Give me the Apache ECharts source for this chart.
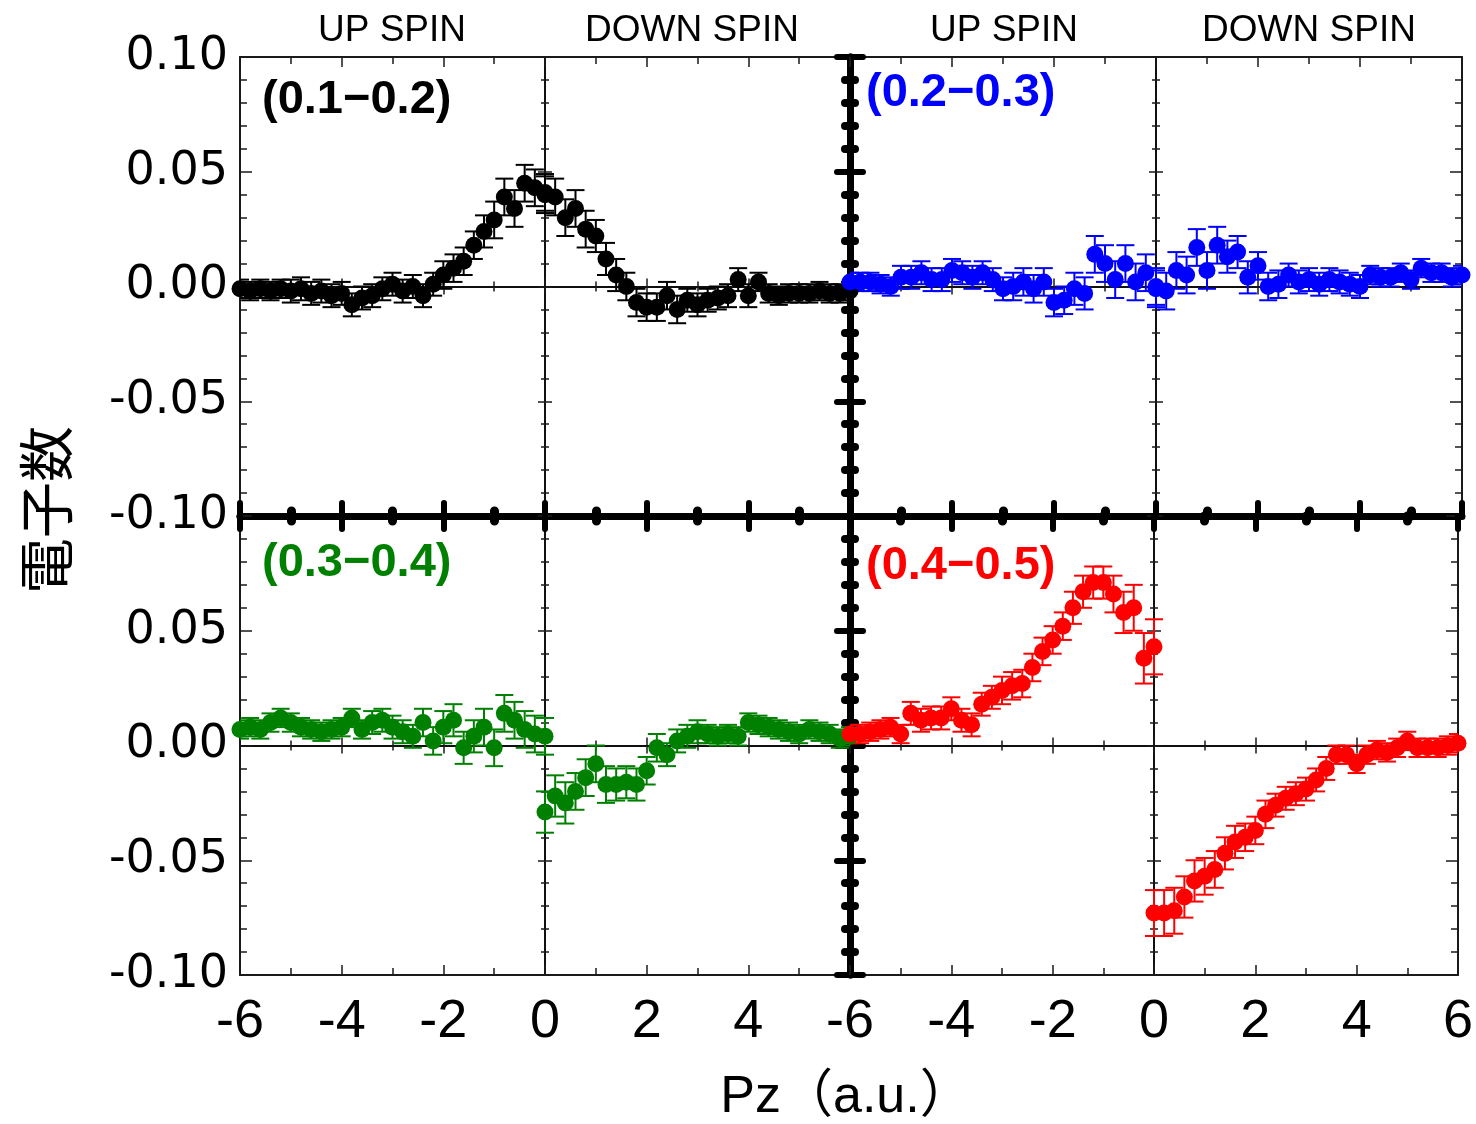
<!DOCTYPE html>
<html><head><meta charset="utf-8">
<script src="https://cdn.jsdelivr.net/npm/echarts@6/dist/echarts.min.js"></script>
<style>html,body{margin:0;padding:0;background:#fff}#c{width:1476px;height:1124px}</style>
</head><body><div id="c"></div>
<script>
// ---------------- DATA ----------------
const upX   = [-6,-5.8,-5.6,-5.4,-5.2,-5,-4.8,-4.6,-4.4,-4.2,-4,-3.8,-3.6,-3.4,-3.2,-3,-2.8,-2.6,-2.4,-2.2,-2,-1.8,-1.6,-1.4,-1.2,-1,-0.8,-0.6,-0.4,-0.2,0];
const downX = [0,0.2,0.4,0.6,0.8,1,1.2,1.4,1.6,1.8,2,2.2,2.4,2.6,2.8,3,3.2,3.4,3.6,3.8,4,4.2,4.4,4.6,4.8,5,5.2,5.4,5.6,5.8,6];
const xTicks = [-6,-4,-2,0,2,4,6];
const yTicks = [-0.10,-0.05,0.00,0.05,0.10];

// (0.1-0.2) black
const blackUp   = [-0.001,-0.002,-0.001,-0.002,-0.001,-0.002,-0.001,-0.003,-0.002,-0.004,-0.003,-0.008,-0.005,-0.004,-0.001,0.001,-0.002,0.000,-0.004,0.001,0.005,0.008,0.011,0.018,0.024,0.029,0.039,0.034,0.045,0.043,0.041];
const blackUpErr= [0.004,0.004,0.004,0.004,0.004,0.005,0.005,0.005,0.005,0.005,0.005,0.005,0.005,0.005,0.005,0.005,0.005,0.005,0.005,0.005,0.006,0.006,0.006,0.006,0.007,0.008,0.008,0.008,0.008,0.008,0.008];
const blackDown = [0.040,0.039,0.030,0.034,0.025,0.022,0.012,0.005,0.000,-0.007,-0.009,-0.009,-0.004,-0.010,-0.006,-0.008,-0.006,-0.005,-0.004,0.003,-0.004,0.002,-0.003,-0.004,-0.003,-0.003,-0.003,-0.002,-0.003,-0.003,-0.002];
const blackDownErr=[0.008,0.008,0.008,0.008,0.008,0.007,0.007,0.007,0.006,0.006,0.006,0.006,0.006,0.006,0.005,0.005,0.005,0.005,0.005,0.005,0.005,0.004,0.004,0.004,0.004,0.004,0.004,0.004,0.004,0.004,0.004];

// (0.2-0.3) blue
const blueUp    = [0.002,0.002,0.002,0.001,0.000,0.004,0.004,0.006,0.003,0.003,0.007,0.006,0.004,0.006,0.003,-0.001,0.000,0.002,-0.001,0.002,-0.007,-0.006,-0.001,-0.003,0.014,0.010,0.003,0.010,0.002,0.006,0.000];
const blueUpErr = [0.004,0.004,0.004,0.004,0.004,0.005,0.005,0.005,0.005,0.005,0.005,0.005,0.005,0.005,0.005,0.005,0.006,0.006,0.006,0.006,0.006,0.006,0.007,0.007,0.008,0.008,0.008,0.008,0.008,0.008,0.008];
const blueDown  = [-0.001,-0.002,0.007,0.005,0.017,0.007,0.018,0.013,0.015,0.004,0.009,0.000,0.001,0.005,0.002,0.003,0.001,0.003,0.002,0.001,0.000,0.005,0.004,0.004,0.006,0.003,0.008,0.006,0.006,0.004,0.005];
const blueDownErr=[0.008,0.008,0.008,0.008,0.008,0.008,0.008,0.007,0.007,0.007,0.006,0.006,0.006,0.005,0.005,0.005,0.005,0.005,0.005,0.005,0.005,0.004,0.004,0.004,0.004,0.004,0.004,0.004,0.004,0.004,0.004];

// (0.3-0.4) green
const greenUp   = [0.007,0.008,0.007,0.010,0.012,0.010,0.008,0.007,0.006,0.007,0.008,0.012,0.007,0.010,0.011,0.008,0.006,0.004,0.010,0.002,0.008,0.011,-0.001,0.004,0.008,-0.001,0.014,0.011,0.007,0.005,0.004];
const greenUpErr= [0.004,0.004,0.004,0.004,0.004,0.004,0.004,0.004,0.004,0.004,0.004,0.004,0.004,0.005,0.005,0.005,0.005,0.005,0.006,0.006,0.007,0.007,0.007,0.007,0.008,0.008,0.008,0.008,0.008,0.008,0.008];
const greenDown = [-0.029,-0.022,-0.025,-0.020,-0.014,-0.008,-0.017,-0.017,-0.016,-0.017,-0.011,-0.001,-0.004,0.002,0.004,0.006,0.005,0.004,0.005,0.004,0.010,0.009,0.008,0.007,0.006,0.005,0.007,0.006,0.005,0.003,0.004];
const greenDownErr=[0.009,0.009,0.009,0.008,0.008,0.008,0.008,0.007,0.007,0.007,0.006,0.006,0.005,0.005,0.005,0.005,0.004,0.004,0.004,0.004,0.004,0.004,0.004,0.004,0.004,0.004,0.004,0.004,0.004,0.004,0.004];

// (0.4-0.5) red
const redUp     = [0.005,0.005,0.006,0.007,0.008,0.005,0.014,0.011,0.012,0.012,0.016,0.011,0.009,0.018,0.021,0.024,0.026,0.027,0.034,0.041,0.046,0.052,0.060,0.067,0.071,0.071,0.066,0.058,0.060,0.038,0.043];
const redUpErr  = [0.004,0.004,0.004,0.004,0.004,0.004,0.005,0.005,0.005,0.005,0.005,0.005,0.005,0.005,0.005,0.006,0.006,0.006,0.006,0.006,0.006,0.006,0.007,0.007,0.007,0.007,0.008,0.009,0.010,0.011,0.012];
const redDown   = [-0.073,-0.073,-0.072,-0.066,-0.059,-0.057,-0.054,-0.047,-0.042,-0.040,-0.037,-0.030,-0.026,-0.023,-0.021,-0.019,-0.015,-0.010,-0.004,-0.004,-0.008,-0.004,-0.002,-0.003,-0.001,0.002,-0.001,-0.001,-0.001,0.000,0.001];
const redDownErr= [0.010,0.010,0.010,0.009,0.009,0.008,0.008,0.007,0.007,0.006,0.006,0.006,0.005,0.005,0.005,0.005,0.005,0.005,0.004,0.004,0.004,0.004,0.004,0.004,0.004,0.004,0.004,0.004,0.004,0.004,0.004];

const panelLabels = ['(0.1\u22120.2)','(0.2\u22120.3)','(0.3\u22120.4)','(0.4\u22120.5)'];
const panelColors = ['#000000','#0000ff','#008000','#ff0000'];
const headerTexts = ['UP SPIN','DOWN SPIN','UP SPIN','DOWN SPIN'];

// ---------------- LAYOUT ----------------
const gridRects = [
  {left:240, top:57,  width:610, height:459},
  {left:850, top:57,  width:612, height:459},
  {left:240, top:516, width:610, height:459},
  {left:850, top:516, width:612, height:459}
];
const panels = [
  {up:blackUp, upErr:blackUpErr, down:blackDown, downErr:blackDownErr},
  {up:blueUp,  upErr:blueUpErr,  down:blueDown,  downErr:blueDownErr},
  {up:greenUp, upErr:greenUpErr, down:greenDown, downErr:greenDownErr},
  {up:redUp,   upErr:redUpErr,   down:redDown,   downErr:redDownErr}
];
const thickSides = [
  {bottom:true, right:true},
  {bottom:true, left:true},
  {top:true, right:true},
  {top:true, left:true}
];

const thinLine = {color:'#1a1a1a', width:2};
const xMin = xTicks[0], xMax = xTicks[xTicks.length-1], xInt = xTicks[1]-xTicks[0];
const yMin = yTicks[0], yMax = yTicks[yTicks.length-1], yInt = 0.05;

function xAxisDef(g, opts) {
  const thick = opts.thick;
  return {
    type:'value', gridIndex:g, min:xMin, max:xMax, interval:xInt,
    position: opts.position,
    axisLine:{show:true, onZero:!!opts.onZero, lineStyle: thick ? {color:'#000', width:7} : (opts.onZero ? {color:'#000', width:1.5} : thinLine)},
    axisTick:{show:true, inside:opts.inside, length: thick ? 13 : (opts.onZero ? 8 : 10),
      lineStyle: thick ? {color:'#000', width:6, cap:'round'} : {color:'#1a1a1a', width:1.5}},
    minorTick:{show:true, splitNumber:2, length: thick ? 5 : (opts.onZero ? 5 : 7),
      lineStyle: thick ? {color:'#000', width:9, cap:'round'} : {color:'#1a1a1a', width:1.5}},
    axisLabel: opts.label ? {show:true, margin:20, color:'#000', fontSize:54, fontFamily:'"Liberation Sans Narrow", "Liberation Sans", Arial, sans-serif',
      showMaxLabel: opts.showMax, formatter: v => String(v)} : {show:false},
    splitLine:{show:false}, minorSplitLine:{show:false}
  };
}
function yAxisDef(g, opts) {
  const thick = opts.thick;
  return {
    type:'value', gridIndex:g, min:yMin, max:yMax, interval:yInt,
    position: opts.position,
    axisLine:{show:true, onZero:!!opts.onZero, lineStyle: thick ? {color:'#000', width:7} : (opts.onZero ? {color:'#000', width:1.5} : thinLine)},
    axisTick:{show:true, inside:opts.inside, length: thick ? 13 : (opts.onZero ? 7 : 12),
      lineStyle: thick ? {color:'#000', width:6, cap:'round'} : {color:'#1a1a1a', width:1.5}},
    minorTick:{show:true, splitNumber:5, length: thick ? 5 : (opts.onZero ? 4 : 7),
      lineStyle: thick ? {color:'#000', width:8, cap:'round'} : {color:'#1a1a1a', width:1.5}},
    axisLabel: opts.label ? {show:true, margin:12, color:'#000', fontSize:46, fontFamily:'"DejaVu Sans", sans-serif',
      showMaxLabel: opts.showMax, formatter: v => (Math.abs(v) < 1e-9 ? 0 : v).toFixed(2)} : {show:false},
    splitLine:{show:false}, minorSplitLine:{show:false}
  };
}

const xAxes = [], yAxes = [], series = [], grids = [];
const axisIdx = [];
gridRects.forEach((r, g) => {
  grids.push(Object.assign({containLabel:false}, r));
  const t = thickSides[g];
  const isBottomRow = g >= 2, isLeftCol = (g % 2 === 0);
  const xb = xAxes.length;
  xAxes.push(xAxisDef(g, {position:'bottom', inside:true, thick:!!t.bottom, label:isBottomRow, showMax: g === 3}));
  xAxes.push(xAxisDef(g, {position:'top', inside:true, thick:!!t.top, label:false}));
  xAxes.push(xAxisDef(g, {position:'bottom', inside:false, onZero:true, label:false}));
  xAxes.push(xAxisDef(g, {position:'bottom', inside:true, onZero:true, label:false}));
  const yb = yAxes.length;
  yAxes.push(yAxisDef(g, {position:'left', inside:true, thick:!!t.left, label:isLeftCol, showMax: g === 0}));
  yAxes.push(yAxisDef(g, {position:'right', inside:true, thick:!!t.right, label:false}));
  yAxes.push(yAxisDef(g, {position:'left', inside:true, onZero:true, label:false}));
  yAxes.push(yAxisDef(g, {position:'left', inside:false, onZero:true, label:false}));
  axisIdx.push({x:xb, y:yb});
});

function errorSeries(g, xs, ys, es, color) {
  return {
    type:'custom', xAxisIndex:axisIdx[g].x, yAxisIndex:axisIdx[g].y, clip:true, z:3,
    data: xs.map((v,i) => [v, ys[i]-es[i], ys[i]+es[i]]),
    encode:{x:0, y:[1,2]},
    renderItem: (params, api) => {
      const lo = api.coord([api.value(0), api.value(1)]);
      const hi = api.coord([api.value(0), api.value(2)]);
      const w = 9;
      const st = {stroke:color, lineWidth:2};
      return {type:'group', children:[
        {type:'line', shape:{x1:lo[0], y1:lo[1], x2:hi[0], y2:hi[1]}, style:st},
        {type:'line', shape:{x1:lo[0]-w, y1:lo[1], x2:lo[0]+w, y2:lo[1]}, style:st},
        {type:'line', shape:{x1:hi[0]-w, y1:hi[1], x2:hi[0]+w, y2:hi[1]}, style:st}
      ]};
    }
  };
}
function pointSeries(g, xs, ys, color) {
  return {
    type:'scatter', xAxisIndex:axisIdx[g].x, yAxisIndex:axisIdx[g].y, clip:true, z:4,
    symbol:'circle', symbolSize:17, itemStyle:{color:color, opacity:1},
    data: xs.map((v,i) => [v, ys[i]])
  };
}
panels.forEach((p, g) => {
  const c = panelColors[g];
  series.push(errorSeries(g, upX, p.up, p.upErr, c));
  series.push(errorSeries(g, downX, p.down, p.downErr, c));
  series.push(pointSeries(g, upX, p.up, c));
  series.push(pointSeries(g, downX, p.down, c));
});

const graphics = [];
const headerCenters = [392, 692, 1004, 1309];
headerTexts.forEach((t, i) => graphics.push({
  type:'text', x:headerCenters[i], y:31, z:10,
  style:{text:t, fill:'#000', align:'center', verticalAlign:'middle', font:'37px "Liberation Sans", Arial, sans-serif'}
}));
const labelPos = [[262,100],[866,93],[262,563],[866,566]];
panelLabels.forEach((t, i) => graphics.push({
  type:'text', x:labelPos[i][0], y:labelPos[i][1], z:10,
  style:{text:t, fill:panelColors[i], align:'left', verticalAlign:'middle', font:'bold 47px "Liberation Sans", Arial, sans-serif'}
}));
graphics.push({
  type:'text', x:46, y:510, rotation:Math.PI/2, z:10,
  style:{text:'電子数', fill:'#000', align:'center', verticalAlign:'middle', font:'56px "Noto Sans CJK JP", sans-serif'}
});
graphics.push({
  type:'text', x:846, y:1098, z:10,
  style:{text:'Pz\uFF08a.u.\uFF09', fill:'#000', align:'center', verticalAlign:'middle', font:'52px "Liberation Sans Narrow", "Liberation Sans", "Noto Sans CJK JP", sans-serif'}
});

const chart = echarts.init(document.getElementById('c'), null, {renderer:'canvas'});
chart.setOption({
  backgroundColor:'#ffffff',
  animation:false,
  grid: grids,
  xAxis: xAxes,
  yAxis: yAxes,
  series: series,
  graphic: graphics
});
</script></body></html>
